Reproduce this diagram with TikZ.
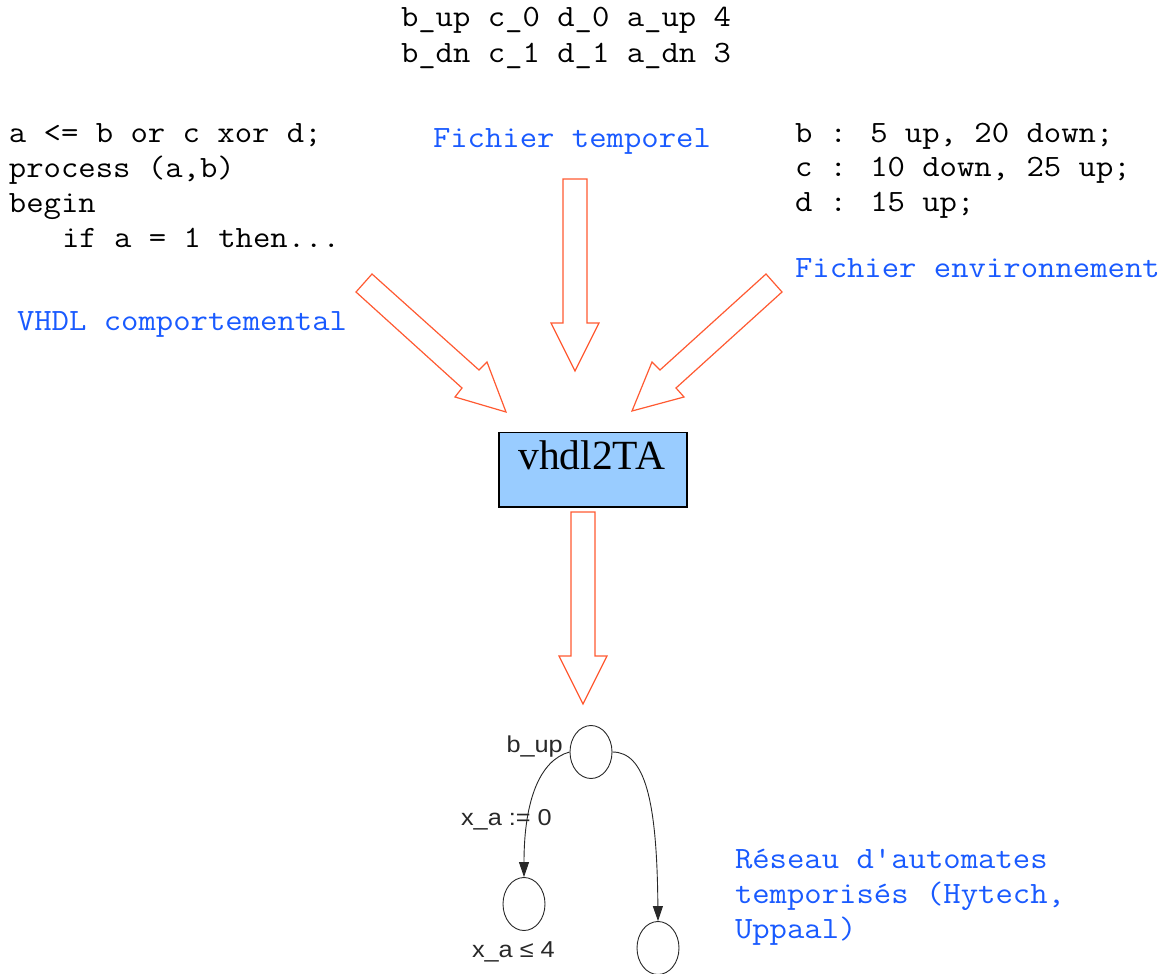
\documentclass[tikz,border=0pt]{standalone}
\usepackage{fontspec}
\usepackage{graphicx}
\usetikzlibrary{arrows.meta,shapes.geometric}
\newfontfamily\serifTA{Liberation Serif}
\newfontfamily\labsans{Liberation Sans}
\definecolor{codeblue}{RGB}{25,90,255}
\definecolor{arrowred}{RGB}{255,90,50}
\definecolor{boxblue}{RGB}{153,204,255}
\definecolor{autogray}{RGB}{40,40,40}
\newcommand{\cd}[1]{\scalebox{1.088}[1]{\fontsize{31}{35}\selectfont\ttfamily #1}}
\newcommand{\lb}[1]{\scalebox{1.1}[1]{\labsans\fontsize{23}{23}\selectfont #1}}
\begin{document}
\begin{tikzpicture}[x=1pt,y=-1pt,
  code/.style={anchor=base west, inner sep=0pt, outer sep=0pt},
  bluecode/.style={code, text=codeblue},
  blockarrow/.style={draw=arrowred, line width=1.2pt, line join=miter, fill=white},
  state/.style={draw=autogray, ellipse, minimum width=42pt, minimum height=53pt, inner sep=0pt, line width=0.9pt},
  edge/.style={draw=autogray, line width=0.9pt, -{Triangle[length=15pt,width=10pt]}},
  lab/.style={anchor=base east, inner sep=0pt, text=autogray}]
\useasboundingbox (0,0) rectangle (1167,974);

% top temporal file content
\node[code] (t1) at (401,27) {\cd{b\_up c\_0 d\_0 a\_up 4}};
\node[code] (t2) at (401,63) {\cd{b\_dn c\_1 d\_1 a\_dn 3}};

% left VHDL code
\node[code] (l1) at (9,142) {\cd{a <= b or c xor d;}};
\node[code] (l2) at (9,177) {\cd{process (a,b)}};
\node[code] (l3) at (9,212) {\cd{begin}};
\node[code] (l4) at (62,247) {\cd{if a = 1 then...}};

% right environment content
\node[code] (r1) at (795,142) {\cd{b : 5 up, 20 down;}};
\node[code] (r2) at (795,176) {\cd{c : 10 down, 25 up;}};
\node[code] (r3) at (795,211) {\cd{d : 15 up;}};

% blue captions
\node[bluecode] (ft) at (433,147) {\cd{Fichier temporel}};
\node[bluecode] (vh) at (17,330) {\cd{VHDL comportemental}};
\node[bluecode] (fe) at (795,277) {\cd{Fichier environnement}};
\node[bluecode] (ra1) at (735,868) {\cd{Réseau d\textquotesingle automates}};
\node[bluecode] (ra2) at (735,903) {\cd{temporisés (Hytech,}};
\node[bluecode] (ra3) at (735,938) {\cd{Uppaal)}};

% block arrows
\draw[blockarrow] (372,274) -- (479,370) -- (487,362) -- (506,412) -- (455,397) -- (462,388) -- (356,292) -- cycle;
\draw[blockarrow] (766,274) -- (782,292) -- (676,388) -- (684,397) -- (632,411) -- (652,362) -- (660,370) -- cycle;
\draw[blockarrow] (563,179) -- (587,179) -- (587,323) -- (599,323) -- (575,371) -- (551,323) -- (563,323) -- cycle;
\draw[blockarrow] (571,512) -- (595,512) -- (595,656) -- (607,656) -- (583,704) -- (559,656) -- (571,656) -- cycle;

% tool box
\node[draw, fill=boxblue, line width=1.5pt, minimum width=188pt, minimum height=74.5pt, inner sep=0pt] (tool) at (592.8,469.7) {};
\node[anchor=base, inner sep=0pt] (toolname) at (591.7,469) {\serifTA\fontsize{41.5}{41.5}\selectfont vhdl2TA};

% automaton
\node[state] (s0) at (591,752) {};
\node[state] (s1) at (524,904) {};
\node[state] (s2) at (658,948) {};
\draw[edge] (s0.west) .. controls (540,760) and (524,800) .. (s1.north);
\draw[edge] (s0.east) .. controls (645,752) and (657,800) .. (s2.north);
\node[lab] (lbup) at (563,752) {\lb{b\_up}};
\node[lab] (lxa) at (552,825) {\lb{x\_a := 0}};
\node[lab] (lxg) at (555,957) {\lb{x\_a ≤ 4}};
\end{tikzpicture}
\end{document}
